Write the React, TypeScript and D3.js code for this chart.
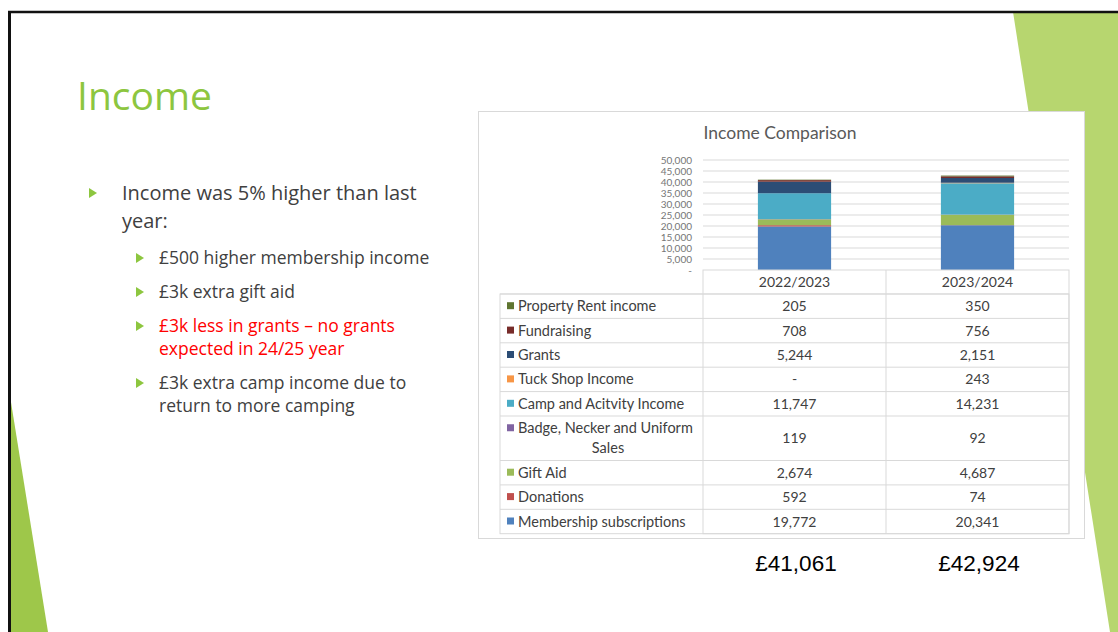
import React from "react";
import * as d3 from "d3";

const categories = ["2022/2023", "2023/2024"];
const seriesNames = [
  "Membership subscriptions",
  "Donations",
  "Gift Aid",
  "Badge, Necker and Uniform Sales",
  "Camp and Acitvity Income",
  "Tuck Shop Income",
  "Grants",
  "Fundraising",
  "Property Rent income",
];
const values2022 = [19772, 592, 2674, 119, 11747, 0, 5244, 708, 205];
const values2023 = [20341, 74, 4687, 92, 14231, 243, 2151, 756, 350];
const seriesColors = ["#4f81bd", "#c0504d", "#9bbb59", "#8064a2", "#4bacc6", "#f79646", "#2c4d75", "#772c2a", "#5f7530"];
const yTicks = [0, 5000, 10000, 15000, 20000, 25000, 30000, 35000, 40000, 45000, 50000];
const totals = ["£41,061", "£42,924"];

const bullets = [
  { level: 0, lines: ["Income was 5% higher than last", "year:"], color: "#404040" },
  { level: 1, lines: ["£500 higher membership income"], color: "#404040" },
  { level: 1, lines: ["£3k extra gift aid"], color: "#404040" },
  { level: 1, lines: ["£3k less in grants – no grants", "expected in 24/25 year"], color: "#ff0000" },
  { level: 1, lines: ["£3k extra camp income due to", "return to more camping"], color: "#404040" },
];

const fmt = (v: number) => (v === 0 ? "-" : d3.format(",")(v));

export default function App() {
  const W = 1118, H = 632;
  const plotLeft = 703, plotRight = 1069;
  const x = d3.scaleBand<string>().domain(categories).range([plotLeft, plotRight]).padding(0);
  const y = d3.scaleLinear().domain([0, 50000]).range([270, 160]);
  const barW = x.bandwidth() * 0.4;

  const data = categories.map((c, i) => {
    const o: any = { cat: c };
    seriesNames.forEach((s, j) => (o[s] = (i === 0 ? values2022 : values2023)[j]));
    return o;
  });
  const stacked = d3.stack<any>().keys(seriesNames)(data);

  const tableLeft = 500;
  const headerTop = 270, headerBottom = 294;
  const rowH = 24.4;
  const tallH = 44.5;
  const rows = [...seriesNames.keys()].reverse();
  let cy = headerBottom;
  const rowPos = rows.map((j) => {
    const h = seriesNames[j].startsWith("Badge") ? tallH : rowH;
    const r = { j, top: cy, h };
    cy += h;
    return r;
  });
  const tableBottom = cy;
  const grid = "#d9d9d9";
  const font = "Lato, 'Open Sans', sans-serif";
  const bodyFont = "'Open Sans', 'DejaVu Sans', sans-serif";
  const tfs = 14;

  const bulletYs = [[200, 228], [264], [298], [332, 355], [389, 412]];

  return (
    <svg width={W} height={H} style={{ position: "absolute", left: 0, top: 0, background: "#fff" }}>
      <rect x={0} y={0} width={W} height={H} fill="#fff" />
      <polygon points="1013,12 1118,12 1118,632 1110,632" fill="#b7d66f" />
      <polygon points="10,396 10,632 48,632" fill="#9ec74a" />
      <line x1={9.5} y1={11} x2={9.5} y2={632} stroke="#111" strokeWidth={3} />
      <line x1={8} y1={12} x2={1118} y2={12} stroke="#111" strokeWidth={2.5} />

      <text x={77} y={110} fontFamily={bodyFont} fontSize={39} fill="#8dc63f">Income</text>

      {bullets.map((b, i) => {
        const tx = b.level === 0 ? 122 : 159;
        const bx = b.level === 0 ? 89 : 136;
        const fs = b.level === 0 ? 20 : 17.5;
        const ys = bulletYs[i];
        const by = ys[0] - (b.level === 0 ? 7 : 6);
        return (
          <g key={i}>
            <polygon points={`${bx},${by - 5} ${bx + 8},${by} ${bx},${by + 5}`} fill="#8dc63f" />
            {b.lines.map((l, k) => (
              <text key={k} x={tx} y={ys[k]} fontFamily={bodyFont} fontSize={fs} fill={b.color}>{l}</text>
            ))}
          </g>
        );
      })}

      <rect x={478.5} y={111.5} width={606} height={427} fill="#fff" stroke={grid} strokeWidth={1} />
      <text x={780} y={139} textAnchor="middle" fontFamily={font} fontSize={17.5} fill="#595959">Income Comparison</text>

      {yTicks.map((t) => (
        <g key={t}>
          {t > 0 && <line x1={plotLeft} x2={plotRight} y1={y(t)} y2={y(t)} stroke={grid} strokeWidth={1} />}
          <text x={692} y={y(t) + 3.5} textAnchor="end" fontFamily={font} fontSize={10} fill="#767676">
            {t === 0 ? "-" : d3.format(",")(t)}
          </text>
        </g>
      ))}

      {stacked.map((layer, j) => (
        <g key={j} fill={seriesColors[j]}>
          {layer.map((d, i) => (
            <rect
              key={i}
              x={x(categories[i])! + (x.bandwidth() - barW) / 2}
              y={y(d[1])}
              width={barW}
              height={Math.max(0, y(d[0]) - y(d[1]))}
            />
          ))}
        </g>
      ))}

      <g stroke={grid} strokeWidth={1} fill="none">
        <rect x={plotLeft} y={headerTop} width={plotRight - plotLeft} height={tableBottom - headerTop} />
        <line x1={x(categories[1])!} x2={x(categories[1])!} y1={headerTop} y2={tableBottom} />
        <rect x={tableLeft} y={headerBottom} width={plotRight - tableLeft} height={tableBottom - headerBottom} />
        {rowPos.map((r, k) => (k > 0 ? <line key={k} x1={tableLeft} x2={plotRight} y1={r.top} y2={r.top} /> : null))}
        <line x1={tableLeft} x2={plotRight} y1={headerBottom} y2={headerBottom} />
      </g>
      {categories.map((c) => (
        <text key={c} x={x(c)! + x.bandwidth() / 2} y={headerTop + 16.5} textAnchor="middle" fontFamily={font} fontSize={tfs} fill="#404040">{c}</text>
      ))}
      {rowPos.map((r) => {
        const name = seriesNames[r.j];
        const mid = r.top + r.h / 2;
        const isTall = r.h > rowH + 1;
        return (
          <g key={r.j}>
            <rect x={507} y={isTall ? mid - 14 : mid - 4} width={7} height={7} fill={seriesColors[r.j]} />
            {isTall ? (
              <>
                <text x={518} y={mid - 5} fontFamily={font} fontSize={tfs + 0.5} fill="#404040">Badge, Necker and Uniform</text>
                <text x={608} y={mid + 14.5} textAnchor="middle" fontFamily={font} fontSize={tfs + 0.5} fill="#404040">Sales</text>
              </>
            ) : (
              <text x={518} y={mid + 5} fontFamily={font} fontSize={tfs + 0.5} fill="#404040">{name}</text>
            )}
            {categories.map((c, i) => (
              <text key={c} x={x(c)! + x.bandwidth() / 2} y={mid + 5} textAnchor="middle" fontFamily={font} fontSize={tfs} fill="#404040">
                {fmt((i === 0 ? values2022 : values2023)[r.j])}
              </text>
            ))}
          </g>
        );
      })}

      {categories.map((c, i) => (
        <text key={c} x={x(c)! + x.bandwidth() / 2 + 1.5} y={571} textAnchor="middle" fontFamily="'Liberation Sans', Arial, sans-serif" fontSize={22.5} fill="#000">
          {totals[i]}
        </text>
      ))}
    </svg>
  );
}
